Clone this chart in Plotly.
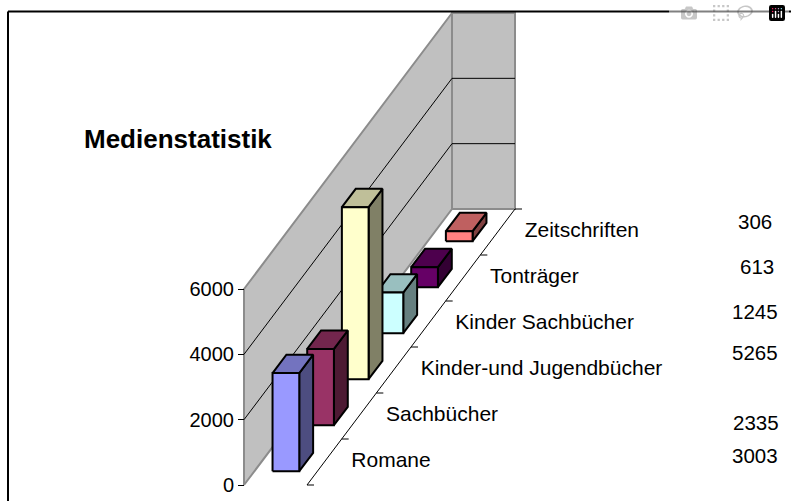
import plotly.graph_objects as go

categories = ["Romane", "Sachbücher", "Kinder-und Jugendbücher", "Kinder Sachbücher", "Tonträger", "Zeitschriften"]
values = [3003, 2335, 5265, 1245, 613, 306]
y_ticks = [0, 2000, 4000, 6000]
front_colors = ["#9999FF", "#993366", "#FFFFCC", "#CCFFFF", "#660066", "#FF8080"]
top_colors = ["#7373BF", "#73264D", "#BFBF99", "#99BFBF", "#4D004D", "#BF6060"]
side_colors = ["#4D4D80", "#4D1A33", "#808066", "#668080", "#330033", "#804040"]
title = "Medienstatistik"
value_label_y_px = [455, 422, 352, 311, 266, 221]
value_label_x_px = [755, 756, 755, 755, 757, 755]

W, H = 791, 501
PX_X = 63.0                 # pixels per unit of wall width
PX_Y = 196.0 / 6000         # pixels per value unit
Y0_PX, X0_PX = 485.0, 244.0
DX = 208.0 / 6 / PX_X       # oblique shift per category, in x units
DY = 276.0 / 6 / PX_Y       # oblique shift per category, in value units
VMAX = y_ticks[-1]
N = len(categories)
FONT = "Liberation Sans"


def proj(w, d, v):
    return w + d * DX, v + d * DY


def poly(points, fill=None, line_color="black", line_width=2, closed=True):
    pts = [proj(*p) for p in points]
    if closed:
        pts.append(pts[0])
    return go.Scatter(
        x=[p[0] for p in pts], y=[p[1] for p in pts], mode="lines",
        fill="toself" if fill else None, fillcolor=fill,
        line=dict(color=line_color, width=line_width),
        hoverinfo="skip", showlegend=False, cliponaxis=False,
    )


fig = go.Figure()

# walls
fig.add_trace(poly([(0, 0, 0), (0, N, 0), (0, N, VMAX), (0, 0, VMAX)], "#C0C0C0", "#8C8C8C", 2))
fig.add_trace(poly([(0, N, 0), (1, N, 0), (1, N, VMAX), (0, N, VMAX)], "#C0C0C0", "#8C8C8C", 2))

# gridlines on the walls
for t in y_ticks[1:-1]:
    fig.add_trace(poly([(0, 0, t), (0, N, t), (1, N, t)], None, "black", 1, closed=False))

# floor edge and its tick marks
fig.add_trace(poly([(1, 0, 0), (1, N, 0)], None, "black", 1, closed=False))
for d in range(N + 1):
    fig.add_trace(poly([(1, d, 0), (1 + 7 / PX_X, d, 0)], None, "black", 1, closed=False))

# bars, back to front
W0, W1 = 0.288, 0.712
D0, D1 = 0.3, 0.7
for i in reversed(range(N)):
    v = values[i]
    a, b = i + D0, i + D1
    fig.add_trace(poly([(W1, a, 0), (W1, b, 0), (W1, b, v), (W1, a, v)], side_colors[i]))
    fig.add_trace(poly([(W0, a, v), (W1, a, v), (W1, b, v), (W0, b, v)], top_colors[i]))
    fig.add_trace(poly([(W0, a, 0), (W1, a, 0), (W1, a, v), (W0, a, v)], front_colors[i]))

# category labels
lx, ly = zip(*[proj(1 + 27 / PX_X, i + 0.5, 0) for i in range(N)])
fig.add_trace(go.Scatter(
    x=lx, y=ly, text=categories, mode="text", textposition="middle right",
    textfont=dict(family=FONT, size=21, color="black"),
    hoverinfo="skip", showlegend=False, cliponaxis=False,
))

layout_annotations = [
    dict(text=title, xref="paper", yref="paper", x=178 / W, y=1 - 139 / H,
         showarrow=False, xanchor="center", yanchor="middle",
         font=dict(family=FONT, size=26, color="black", weight="bold")),
]
for v, xp, yp in zip(values, value_label_x_px, value_label_y_px):
    layout_annotations.append(dict(
        text=str(v), xref="paper", yref="paper", x=xp / W, y=1 - yp / H,
        showarrow=False, xanchor="center", yanchor="middle",
        font=dict(family=FONT, size=20.5, color="black"),
    ))

fig.update_layout(
    width=W, height=H, margin=dict(l=0, r=0, t=0, b=0),
    paper_bgcolor="white", plot_bgcolor="white", showlegend=False,
    xaxis=dict(range=[-X0_PX / PX_X, (W - X0_PX) / PX_X], visible=False, fixedrange=True),
    yaxis=dict(
        range=[(Y0_PX - H) / PX_Y, Y0_PX / PX_Y], anchor="free", position=X0_PX / W,
        tickmode="array", tickvals=y_ticks, ticktext=[str(t) for t in y_ticks],
        ticks="outside", ticklen=6, tickwidth=1, tickcolor="black",
        showgrid=False, zeroline=False, showline=False, fixedrange=True,
        tickfont=dict(family=FONT, size=20, color="black"),
    ),
    annotations=layout_annotations,
    shapes=[
        dict(type="line", xref="paper", yref="paper",
             x0=8 / W, x1=1, y0=1 - 11.5 / H, y1=1 - 11.5 / H,
             line=dict(color="black", width=2)),
        dict(type="line", xref="paper", yref="paper",
             x0=8 / W, x1=8 / W, y0=0, y1=1 - 11.5 / H,
             line=dict(color="black", width=2)),
    ],
)

fig.write_html("out.html", post_script="document.body.style.margin='0';document.body.style.overflow='hidden';")
